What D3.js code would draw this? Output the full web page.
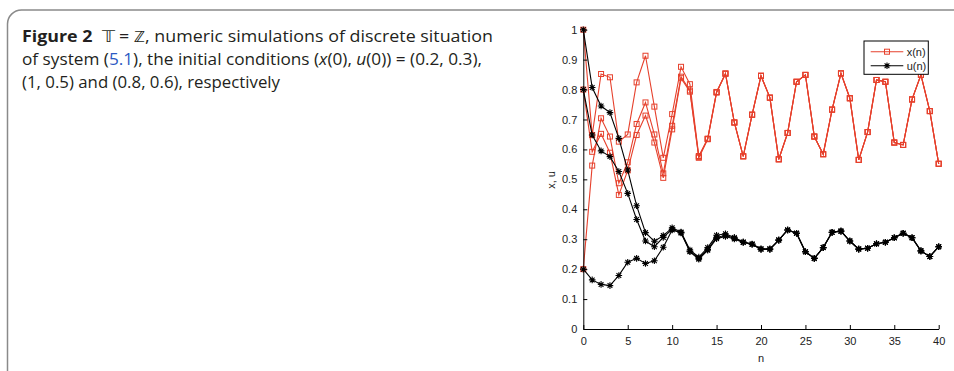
<!DOCTYPE html>
<html><head><meta charset="utf-8">
<script src="https://cdn.jsdelivr.net/npm/d3@7"></script>
<style>
html,body{margin:0;padding:0;background:#fff;}
svg{display:block;}
</style></head>
<body>
<svg id="chart" width="954" height="371"></svg>
<script>
// ---- data ----
const nValues = d3.range(0, 41);
const xTicks = [0, 5, 10, 15, 20, 25, 30, 35, 40];
const yTicks = [0, 0.1, 0.2, 0.3, 0.4, 0.5, 0.6, 0.7, 0.8, 0.9, 1];
const yTickLabels = ["0", "0.1", "0.2", "0.3", "0.4", "0.5", "0.6", "0.7", "0.8", "0.9", "1"];

const x1 = [1.0,0.648,0.852,0.841,0.626,0.650,0.824,0.913,0.743,0.572,0.718,0.876,0.818,0.578,0.636,0.792,0.854,0.690,0.577,0.716,0.846,0.773,0.567,0.655,0.826,0.849,0.643,0.584,0.733,0.854,0.771,0.565,0.658,0.832,0.826,0.623,0.615,0.767,0.849,0.728,0.552];
const x2 = [0.2,0.546,0.704,0.643,0.487,0.557,0.685,0.757,0.650,0.520,0.679,0.843,0.797,0.575,0.635,0.791,0.853,0.690,0.577,0.716,0.846,0.773,0.567,0.655,0.826,0.849,0.643,0.584,0.733,0.854,0.771,0.565,0.658,0.832,0.826,0.623,0.615,0.767,0.849,0.728,0.552];
const x3 = [0.8,0.592,0.652,0.589,0.448,0.530,0.648,0.713,0.623,0.505,0.667,0.838,0.793,0.572,0.634,0.790,0.853,0.690,0.577,0.716,0.846,0.773,0.567,0.655,0.826,0.849,0.643,0.584,0.733,0.854,0.771,0.565,0.658,0.832,0.826,0.623,0.615,0.767,0.849,0.728,0.552];

const u1 = [1.0,0.807,0.745,0.723,0.637,0.531,0.412,0.322,0.293,0.312,0.338,0.324,0.264,0.240,0.272,0.313,0.318,0.306,0.291,0.284,0.267,0.267,0.297,0.331,0.320,0.258,0.236,0.272,0.323,0.327,0.294,0.267,0.270,0.285,0.290,0.305,0.320,0.305,0.261,0.242,0.275];
const u2 = [0.8,0.648,0.595,0.576,0.526,0.453,0.366,0.294,0.275,0.306,0.333,0.321,0.258,0.233,0.263,0.302,0.309,0.301,0.289,0.283,0.267,0.267,0.297,0.331,0.320,0.258,0.236,0.272,0.323,0.327,0.294,0.267,0.270,0.285,0.290,0.305,0.320,0.305,0.261,0.242,0.275];
const u3 = [0.2,0.164,0.149,0.145,0.179,0.223,0.236,0.219,0.228,0.273,0.331,0.322,0.260,0.236,0.266,0.306,0.313,0.303,0.290,0.283,0.267,0.267,0.297,0.331,0.320,0.258,0.236,0.272,0.323,0.327,0.294,0.267,0.270,0.285,0.290,0.305,0.320,0.305,0.261,0.242,0.275];

const xSeries = [x1, x2, x3];
const uSeries = [u1, u2, u3];
const legendLabels = ["x(n)", "u(n)"];
const xLabel = "n";
const yLabel = "x, u";

// ---- styles ----
const RED = "#e6402c";
const BLACK = "#000";

const svg = d3.select("#chart");

// caption card border
svg.append("path")
  .attr("d", "M7.5,371 L7.5,24 A14,14 0 0 1 21.5,10 L954,10")
  .attr("fill", "none").attr("stroke", "#8a8a8a").attr("stroke-width", 1.5);

// caption
const cap = svg.append("g").attr("font-family", "'Open Sans', 'Noto Sans', sans-serif")
  .attr("font-size", 15.5).attr("fill", "#231f20");
const l1 = cap.append("text").attr("x", 22).attr("y", 41.5);
l1.append("tspan").attr("font-weight", "bold").text("Figure 2");
l1.append("tspan").attr("dx", 8).text("\u{1D54B} = \u2124, numeric simulations of discrete situation");
const l2 = cap.append("text").attr("x", 22).attr("y", 64.5);
l2.append("tspan").text("of system (");
l2.append("tspan").attr("fill", "#2b59c3").text("5.1");
l2.append("tspan").text("), the initial conditions (");
l2.append("tspan").attr("font-style", "italic").text("x");
l2.append("tspan").text("(0), ");
l2.append("tspan").attr("font-style", "italic").text("u");
l2.append("tspan").text("(0)) = (0.2, 0.3),");
const l3 = cap.append("text").attr("x", 22).attr("y", 87.5);
l3.append("tspan").text("(1, 0.5) and (0.8, 0.6), respectively");

function fitWidth(sel, target) {
  const w = sel.node().getComputedTextLength();
  if (w > 0) sel.attr("textLength", target).attr("lengthAdjust", "spacingAndGlyphs");
}
fitWidth(l1, 471);
fitWidth(l2, 460);
fitWidth(l3, 258);

// ---- plot ----
const xScale = d3.scaleLinear().domain([0, 40]).range([583.3, 938.7]);
const yScale = d3.scaleLinear().domain([0, 1]).range([329, 29.7]);

const plot = svg.append("g");

const line = d3.line().x((d, i) => xScale(nValues[i])).y(d => yScale(d));

function asterisk(cx, cy, r) {
  const a = r * 0.72;
  return `M${cx - r},${cy}L${cx + r},${cy}M${cx},${cy - r}L${cx},${cy + r}` +
         `M${cx - a},${cy - a}L${cx + a},${cy + a}M${cx - a},${cy + a}L${cx + a},${cy - a}`;
}

// red x series
xSeries.forEach(s => {
  plot.append("path").datum(s).attr("d", line)
    .attr("fill", "none").attr("stroke", RED).attr("stroke-width", 1.1);
});
xSeries.forEach(s => {
  plot.append("g").selectAll("rect").data(s).join("rect")
    .attr("x", (d, i) => xScale(nValues[i]) - 2.5)
    .attr("y", d => yScale(d) - 2.5)
    .attr("width", 5).attr("height", 5)
    .attr("fill", "none").attr("stroke", RED).attr("stroke-width", 1);
});
// black u series
uSeries.forEach(s => {
  plot.append("path").datum(s).attr("d", line)
    .attr("fill", "none").attr("stroke", BLACK).attr("stroke-width", 1.1);
});
uSeries.forEach(s => {
  plot.append("g").selectAll("path").data(s).join("path")
    .attr("d", (d, i) => asterisk(xScale(nValues[i]), yScale(d), 3.3))
    .attr("fill", "none").attr("stroke", BLACK).attr("stroke-width", 1.1);
});

// axes
const axisFont = "'Liberation Sans', Arial, Helvetica, sans-serif";
const xAxis = d3.axisBottom(xScale).tickValues(xTicks).tickFormat(d3.format("d"))
  .tickSizeInner(-4).tickSizeOuter(0).tickPadding(8);
const gx = svg.append("g").attr("transform", "translate(0,329)").call(xAxis);
const yAxis = d3.axisLeft(yScale).tickValues(yTicks).tickFormat((d, i) => yTickLabels[i])
  .tickSizeInner(-4).tickSizeOuter(0).tickPadding(6);
const gy = svg.append("g").attr("transform", "translate(583.3,0)").call(yAxis);
[gx, gy].forEach(g => {
  g.attr("font-family", axisFont).attr("font-size", 11);
  g.select(".domain").attr("stroke", "#000").attr("stroke-width", 1);
  g.selectAll(".tick line").attr("stroke", "#000");
  g.selectAll(".tick text").attr("fill", "#222");
});

svg.append("text").attr("x", (583.3 + 938.7) / 2).attr("y", 362)
  .attr("text-anchor", "middle").attr("font-family", axisFont).attr("font-size", 11)
  .attr("fill", "#222").text(xLabel);
svg.append("text").attr("transform", "translate(555,180) rotate(-90)")
  .attr("text-anchor", "middle").attr("font-family", axisFont).attr("font-size", 11)
  .attr("fill", "#222").text(yLabel);

// legend
const lg = svg.append("g");
lg.append("rect").attr("x", 864).attr("y", 41).attr("width", 64.3).attr("height", 33.3)
  .attr("fill", "#fff").attr("stroke", "#000").attr("stroke-width", 1);
const legendRows = [
  { label: legendLabels[0], color: RED, y: 51.7, marker: "square" },
  { label: legendLabels[1], color: BLACK, y: 65.7, marker: "star" }
];
legendRows.forEach(r => {
  lg.append("line").attr("x1", 870.7).attr("x2", 903.3).attr("y1", r.y).attr("y2", r.y)
    .attr("stroke", r.color).attr("stroke-width", 1.1);
  if (r.marker === "square") {
    lg.append("rect").attr("x", 887 - 2.5).attr("y", r.y - 2.5).attr("width", 5).attr("height", 5)
      .attr("fill", "none").attr("stroke", r.color);
  } else {
    lg.append("path").attr("d", asterisk(887, r.y, 3.3)).attr("stroke", r.color)
      .attr("stroke-width", 1.1).attr("fill", "none");
  }
  lg.append("text").attr("x", 906.7).attr("y", r.y + 4).attr("font-family", axisFont)
    .attr("font-size", 11).attr("fill", "#222").text(r.label);
});
</script>
</body></html>
